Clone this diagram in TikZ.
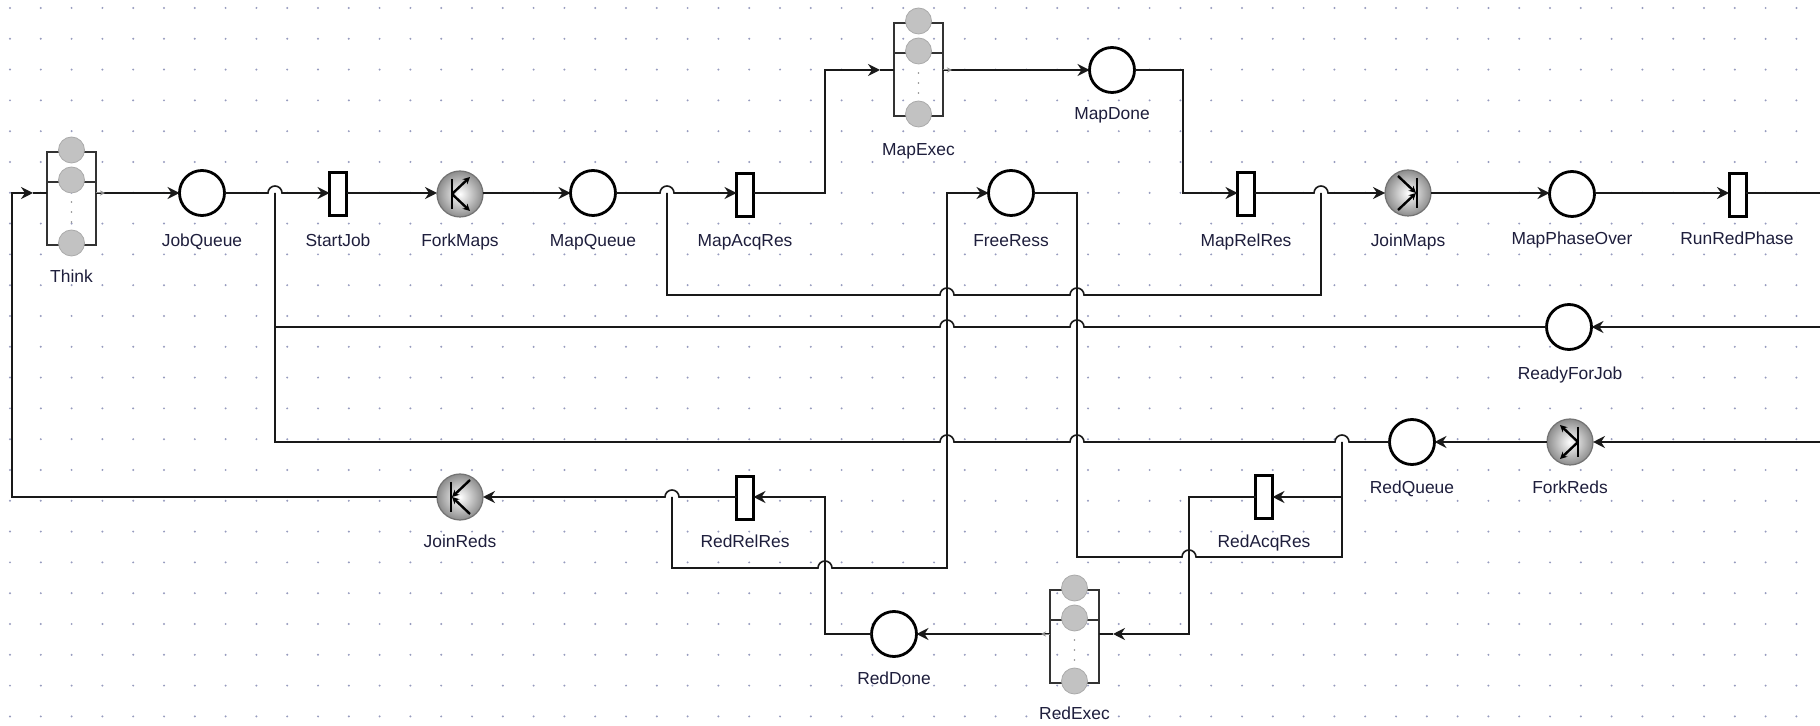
\documentclass[tikz,border=0pt]{standalone}
\usepackage{fontspec}
\setmainfont{Liberation Sans}
\usetikzlibrary{arrows.meta,positioning,calc}

\definecolor{gridc}{RGB}{150,155,190}
\definecolor{labelc}{RGB}{30,30,60}

\tikzset{
 pnplace/.style={circle,draw=black,line width=1.4pt,fill=white,minimum size=22.5pt,inner sep=0pt,outer sep=0pt},
 pntrans/.style={rectangle,draw=black,line width=1.5pt,fill=white,minimum width=8.5pt,minimum height=21.5pt,inner sep=0pt,outer sep=0pt},
 forkjoin/.style={circle,draw=black!55,line width=0.6pt,inner color=white,outer color=black!45,minimum size=23pt,inner sep=0pt,outer sep=0pt},
 qport/.style={rectangle,minimum width=38.5pt,minimum height=1pt,inner sep=0pt,outer sep=0pt},
 qline/.style={draw=black!80,line width=0.8pt},
 qcirc/.style={fill=black!24,draw=black!33,line width=0.4pt},
 lbl/.style={font=\fontsize{8.7}{10}\selectfont,text=labelc,inner sep=0pt,text height=6.5pt,text depth=1.8pt},
 wire/.style={draw=black!90,line width=0.8pt},
 flow/.style={wire,-{Stealth[length=6pt,width=6pt,inset=2pt]}},
 symline/.style={draw=black,line width=1.2pt},
 symtip/.style={-{Stealth[length=3.5pt,width=3.5pt]}},
 tinytip/.style={draw=black!45,line width=0.5pt,-{Stealth[length=2.5pt,width=2.5pt]}}
}

% hop over a vertical wire, going right / going left
\newcommand{\hopr}[2]{-- ({#1-7},#2) arc[start angle=180,end angle=0,radius=3.5pt]}
\newcommand{\hopl}[2]{-- ({#1+7},#2) arc[start angle=0,end angle=180,radius=3.5pt]}

% queueing place: name, x, top y, wire y, label, label y
\newcommand{\qplace}[6]{%
 \draw[qline] ({#2-24.5},#3) rectangle ({#2+24.5},{#3+93});
 \draw[qline] ({#2-24.5},{#3+30}) -- ({#2+24.5},{#3+30});
 \foreach \dy in {0,30,93} \filldraw[qcirc] (#2,{#3+\dy-2}) circle (6.5pt);
 \foreach \dy in {50,60,70} \fill[black!45] (#2,{#3+\dy}) circle (0.45pt);
 \node[qport] (#1) at (#2,#4) {};
 \draw[wire] (#1.west) -- ({#2-24.5},#4) ({#2+24.5},#4) -- (#1.east);
 \node[lbl] (#1-l) at (#2,#6) {#5};}

% fork / join marks: node, flow direction (1 right, -1 left)
\newcommand{\forkmark}[2]{%
 \draw[symline] ($(#1)+({-8*(#2)},-15)$) -- ($(#1)+({-8*(#2)},15)$);
 \draw[symline,symtip] ($(#1)+({-8*(#2)},0)$) -- ($(#1)+({10*(#2)},-17)$);
 \draw[symline,symtip] ($(#1)+({-8*(#2)},0)$) -- ($(#1)+({10*(#2)},17)$);}
\newcommand{\joinmark}[2]{%
 \draw[symline] ($(#1)+({9*(#2)},-15)$) -- ($(#1)+({9*(#2)},15)$);
 \draw[symline,symtip] ($(#1)+({-10*(#2)},-17)$) -- ($(#1)+({8*(#2)},0)$);
 \draw[symline,symtip] ($(#1)+({-10*(#2)},17)$) -- ($(#1)+({8*(#2)},0)$);}

\begin{document}
\begin{tikzpicture}[x=0.5pt,y=-0.5pt,>=Stealth]
 \useasboundingbox (0,0) rectangle (1820,726);
 \fill[white] (0,0) rectangle (1820,726);
 \foreach \i in {0,...,58}
  \foreach \j in {0,...,23}
   \fill[gridc] ({10+30.8*\i},{8+30.8*\j}) circle (0.55pt);

 % free wire ends and taps
 \coordinate (RedOut) at (1820,193);
 \coordinate (ReadyIn) at (1820,327);
 \coordinate (RedsIn) at (1820,442);
 \coordinate (MapLoop) at (667,193);
 \coordinate (AcqTap) at (1342,497);
 \coordinate (RelTap) at (672,497);

 % map phase
 \qplace{Think}{71.5}{152}{193}{Think}{278}
 \node[pnplace] (JobQueue) at (202,193) {};
 \node[pntrans] (StartJob) at (338,194) {};
 \node[forkjoin] (ForkMaps) at (460,194) {};
 \node[pnplace] (MapQueue) at (593,193) {};
 \node[pntrans] (MapAcqRes) at (745,195) {};
 \qplace{MapExec}{918.5}{23}{70}{MapExec}{151}
 \node[pnplace] (MapDone) at (1112,70) {};
 \node[pnplace] (FreeRess) at (1011,193) {};
 \node[pntrans] (MapRelRes) at (1246,194) {};
 \node[forkjoin] (JoinMaps) at (1408,193) {};
 \node[pnplace] (MapPhaseOver) at (1572,194) {};
 \node[pntrans] (RunRedPhase) at (1737.5,195) {};

 % reduce phase
 \node[pnplace] (ReadyForJob) at (1569,327) {};
 \node[forkjoin] (ForkReds) at (1570,442) {};
 \node[pnplace] (RedQueue) at (1412,442) {};
 \node[pntrans] (RedAcqRes) at (1264,497) {};
 \qplace{RedExec}{1074.5}{590}{634}{RedExec}{715}
 \node[pnplace] (RedDone) at (894,634) {};
 \node[pntrans] (RedRelRes) at (745,498) {};
 \node[forkjoin] (JoinReds) at (460,497) {};

 \forkmark{ForkMaps}{1}
 \joinmark{JoinMaps}{1}
 \forkmark{ForkReds}{-1}
 \joinmark{JoinReds}{-1}

 \draw[tinytip] ([xshift=-7pt]Think.east) -- ([xshift=-2.5pt]Think.east);
 \draw[tinytip] ([xshift=-7pt]MapExec.east) -- ([xshift=-2.5pt]MapExec.east);
 \draw[tinytip] ([xshift=7pt]RedExec.west) -- ([xshift=2.5pt]RedExec.west);

 \node[lbl] (JobQueue-l) at (202,242) {JobQueue};
 \node[lbl] (StartJob-l) at (338,242) {StartJob};
 \node[lbl] (ForkMaps-l) at (460,242) {ForkMaps};
 \node[lbl] (MapQueue-l) at (593,242) {MapQueue};
 \node[lbl] (MapAcqRes-l) at (745,242) {MapAcqRes};
 \node[lbl] (MapDone-l) at (1112,115) {MapDone};
 \node[lbl] (FreeRess-l) at (1011,242) {FreeRess};
 \node[lbl] (MapRelRes-l) at (1246,242) {MapRelRes};
 \node[lbl] (JoinMaps-l) at (1408,242) {JoinMaps};
 \node[lbl] (MapPhaseOver-l) at (1572,240) {MapPhaseOver};
 \node[lbl] (RunRedPhase-l) at (1737,240) {RunRedPhase};
 \node[lbl] (ReadyForJob-l) at (1570,375) {ReadyForJob};
 \node[lbl] (ForkReds-l) at (1570,489) {ForkReds};
 \node[lbl] (RedQueue-l) at (1412,489) {RedQueue};
 \node[lbl] (RedAcqRes-l) at (1264,543) {RedAcqRes};
 \node[lbl] (RedDone-l) at (894,680) {RedDone};
 \node[lbl] (RedRelRes-l) at (745,543) {RedRelRes};
 \node[lbl] (JoinReds-l) at (460,543) {JoinReds};

 % connectors
 \draw[flow] (JoinReds.west) -- ++(-425,0) |- (Think.west);
 \draw[flow] (Think.east) -- (JobQueue.west);
 \draw[flow] (JobQueue.east) \hopr{275}{193} -- (StartJob.west |- JobQueue);
 \draw[flow] (StartJob.east |- JobQueue) -- (ForkMaps.west |- JobQueue);
 \draw[flow] (ForkMaps.east |- JobQueue) -- (MapQueue.west);
 \draw[flow] (MapQueue.east) \hopr{667}{193} -- (MapAcqRes.west |- MapQueue);
 \draw[flow] (MapAcqRes.east |- MapQueue) -- (825,193) |- (MapExec.west);
 \draw[flow] (MapExec.east) -- (MapDone.west);
 \draw[flow] (MapDone.east) -| (1183,193) -- (MapRelRes.west |- FreeRess);
 \draw[flow] (MapRelRes.east |- FreeRess) \hopr{1321}{193} -- (JoinMaps.west);
 \draw[flow] (JoinMaps.east) -- (MapPhaseOver.west |- JoinMaps);
 \draw[flow] (MapPhaseOver.east |- JoinMaps) -- (RunRedPhase.west |- JoinMaps);
 \draw[wire] (RunRedPhase.east |- JoinMaps) -- (RedOut);
 \draw[flow] (ReadyIn) -- (ReadyForJob.east);
 \draw[flow] (RedsIn) -- (ForkReds.east);
 \draw[wire] (ReadyForJob.west) \hopl{1077}{327} \hopl{947}{327} -- (275,327);
 \draw[flow] (ForkReds.west) -- (RedQueue.east);
 \draw[wire] (RedQueue.west) \hopl{1342}{442} \hopl{1077}{442} \hopl{947}{442}
  -- (275,442) -- (275,193);
 \draw[wire] (FreeRess.east) -| (1077,557) \hopr{1189}{557} -| (1342,442);
 \draw[flow] (AcqTap) -- (RedAcqRes.east);
 \draw[flow] (RedAcqRes.west) -| (1189,634) -- (RedExec.east);
 \draw[flow] (RedExec.west) -- (RedDone.east);
 \draw[flow] (RedDone.west) -| (825,497) -- (RedRelRes.east |- RedAcqRes);
 \draw[flow] (RedRelRes.west |- RedAcqRes) \hopl{672}{497} -- (JoinReds.east);
 \draw[flow] (RelTap) -- (672,568) \hopr{825}{568} -| (947,193) -- (FreeRess.west);
 \draw[wire] (MapLoop) -- (667,295) \hopr{947}{295} \hopr{1077}{295} -| (1321,193);
\end{tikzpicture}
\end{document}
